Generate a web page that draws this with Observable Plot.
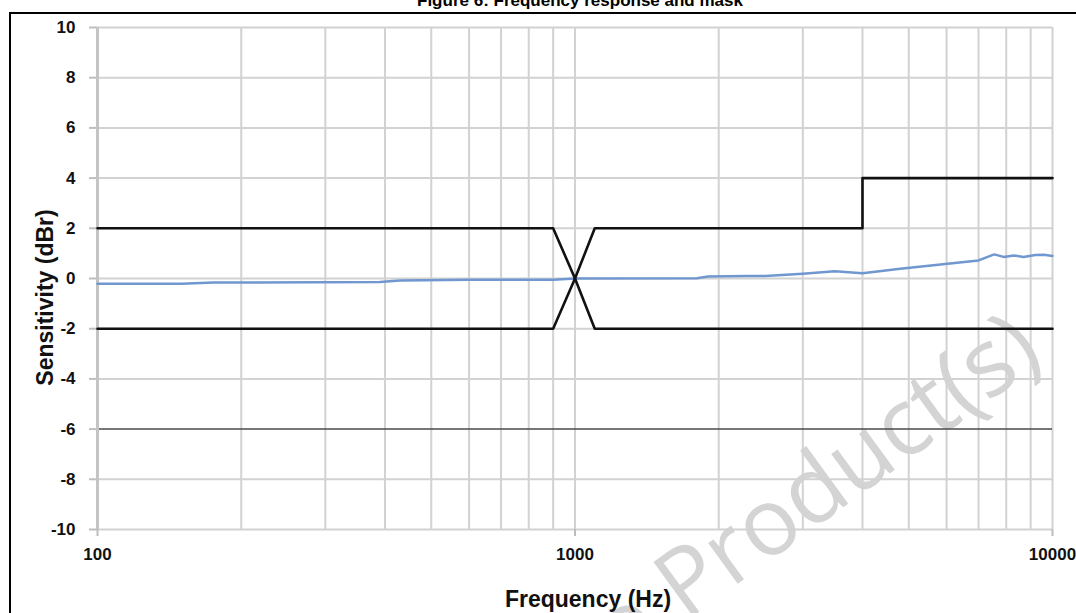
<!DOCTYPE html>
<html><head><meta charset="utf-8">
<script src="https://cdn.jsdelivr.net/npm/d3@7"></script>
<script src="https://cdn.jsdelivr.net/npm/@observablehq/plot@0.6"></script>
<style>
html,body{margin:0;padding:0;background:#fff;width:1076px;height:613px;overflow:hidden;}
#wrap{position:relative;width:1076px;height:613px;overflow:hidden;}
#title{position:absolute;left:0;width:1160px;text-align:center;top:-8px;font:bold 17px/17px "Liberation Sans",Arial,sans-serif;color:#000;white-space:nowrap}
#frame{position:absolute;left:9px;top:12px;width:1200px;height:700px;border:2px solid #000;box-sizing:border-box}
#wm{position:absolute;left:0;top:0}
#chart{position:absolute;left:0;top:0;}
</style></head>
<body>
<div id="wrap">
  <div id="title">Figure 6: Frequency response and mask</div>
  <div id="frame"></div>
  <svg id="wm" width="1076" height="613"><text x="1046" y="360" text-anchor="end" transform="rotate(-36 1046 360)" font-family="Open Sans, sans-serif" font-size="94" fill="#d4d4d4">Obsolete Product(s)</text></svg>
  <div id="chart"></div>
</div>
<script>
// Frequency response (measured curve)
const respFreq = [100,150,175,390,430,600,900,1000,1800,1900,2300,2500,3000,3500,4000,4800,6100,7000,7550,7900,8300,8700,9200,9600,10000];
const respDb   = [-0.21,-0.21,-0.16,-0.14,-0.08,-0.05,-0.05,0,0.01,0.08,0.1,0.1,0.19,0.29,0.21,0.39,0.6,0.72,0.96,0.86,0.92,0.86,0.94,0.95,0.9];
// Upper mask
const upperFreq = [100,900,1000,1100,4000,4000,10000];
const upperDb   = [2,2,0,2,2,4,4];
// Lower mask
const lowerFreq = [100,900,1000,1100,10000];
const lowerDb   = [-2,-2,0,-2,-2];
// Axes
const gridFreqs = [100,200,300,400,500,600,700,800,900,1000,2000,3000,4000,5000,6000,7000,8000,9000,10000];
const xTicks = [100,1000,10000];
const yTicks = [-10,-8,-6,-4,-2,0,2,4,6,8,10];
const darkGrid = [-6];
const xLabel = "Frequency (Hz)";
const yLabel = "Sensitivity (dBr)";

const resp = respFreq.map((f,i)=>({f, v: respDb[i]}));
const upper = upperFreq.map((f,i)=>({f, v: upperDb[i]}));
const lower = lowerFreq.map((f,i)=>({f, v: lowerDb[i]}));

const font = "'Liberation Sans', Arial, sans-serif";
const plot = Plot.plot({
  width: 1076, height: 613,
  marginLeft: 97, marginRight: 24, marginTop: 27, marginBottom: 84,
  x: {type: "log", domain: [100, 10000]},
  y: {domain: [-10, 10]},
  style: {fontFamily: font, background: "transparent", overflow: "visible", color: "#111"},
  marks: [
    Plot.ruleX(gridFreqs, {stroke: "#d2d2d2", strokeWidth: 2}),
    Plot.ruleY(yTicks.filter(d => !darkGrid.includes(d)), {stroke: "#d2d2d2", strokeWidth: 2}),
    Plot.ruleY(darkGrid, {stroke: "#4a4a4a", strokeWidth: 1.5}),
    Plot.axisX({ticks: xTicks, tickFormat: d => String(d), tickSize: 7, tickPadding: 11, fontSize: 17, fontWeight: "bold", stroke: "#bdbdbd", strokeWidth: 2, fill: "#111", label: null}),
    Plot.axisY({ticks: yTicks, tickFormat: d => String(d), tickSize: 8, tickPadding: 14, fontSize: 17, fontWeight: "bold", stroke: "#bdbdbd", strokeWidth: 2, fill: "#111", label: null}),
    Plot.ruleX(xTicks.slice(0,1), {stroke: "#c4c4c4", strokeWidth: 3}),
    Plot.line(resp, {x: "f", y: "v", stroke: "#7097cf", strokeWidth: 2.5}),
    Plot.line(upper, {x: "f", y: "v", stroke: "#111", strokeWidth: 2.6}),
    Plot.line(lower, {x: "f", y: "v", stroke: "#111", strokeWidth: 2.6}),
    Plot.text([xLabel], {text: d => d, frameAnchor: "bottom", textAnchor: "middle", lineAnchor: "middle", dx: 13, dy: 70, fontSize: 23, fontWeight: "bold", fill: "#111"}),
    Plot.text([yLabel], {text: d => d, frameAnchor: "left", textAnchor: "middle", lineAnchor: "middle", rotate: -90, dx: -52, dy: 19, fontSize: 23, fontWeight: "bold", fill: "#111"})
  ]
});
document.getElementById("chart").appendChild(plot);
</script>
</body></html>
